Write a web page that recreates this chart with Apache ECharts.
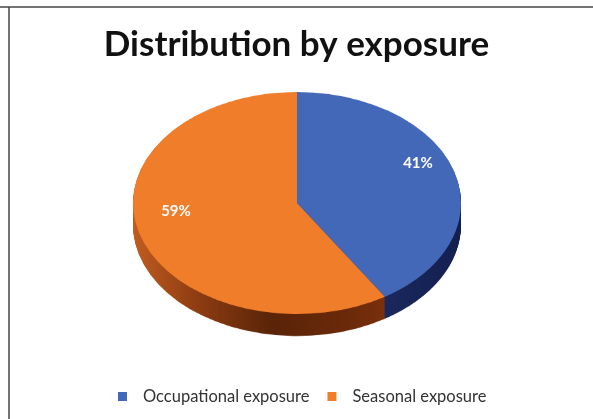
<!DOCTYPE html>
<html>
<head>
<meta charset="utf-8">
<script src="https://cdn.jsdelivr.net/npm/echarts@6/dist/echarts.min.js"></script>
<style>
  html, body { margin: 0; padding: 0; background: #ffffff; }
  #wrap { position: relative; width: 593px; height: 419px; overflow: hidden; background: #ffffff; }
  #pie3d { position: absolute; left: 0; top: 0; width: 593px; height: 540px; transform-origin: 0 0; }
  #front { position: absolute; left: 0; top: 0; width: 593px; height: 419px; }
</style>
</head>
<body>
<div id="wrap">
  <div id="pie3d"></div>
  <div id="front"></div>
</div>
<script>
// ---- data ----
const categories = ['Occupational exposure', 'Seasonal exposure'];
const values = [41, 59];
const titleText = 'Distribution by exposure';

// ---- styling / geometry ----
const topColors = ['#4468B8', '#F07D2A'];
const CX = 297;          // pie centre x (px)
const CY = 203;          // ellipse centre y on screen (px)
const RX = 164;          // horizontal radius (px)
const RY = 111;          // vertical radius (px)
const DEPTH = 22;        // visible thickness (px)
const S = RY / RX;       // vertical squash
const LABEL_CY = 187;    // perspective-apparent centre for labels

const pieData = categories.map((c, i) => ({ name: c, value: values[i] }));

// ---- squashed 3D body ----
const pieEl = document.getElementById('pie3d');
pieEl.style.transform = 'scaleY(' + S + ')';
const chartB = echarts.init(pieEl, null, { renderer: 'canvas' });

function sideColor(i) {
  if (i === 0) {
    return new echarts.graphic.LinearGradient(0, 0, 1, 0, [
      { offset: 0, color: '#22336e' },
      { offset: 1, color: '#131f4f' }
    ]);
  }
  return new echarts.graphic.LinearGradient(0, 0, 1, 0, [
    { offset: 0, color: '#c05c20' },
    { offset: 0.25, color: '#8f3d12' },
    { offset: 0.55, color: '#5a2408' },
    { offset: 0.85, color: '#6a2a0a' },
    { offset: 1, color: '#7a300c' }
  ]);
}

const bSeries = [];
const cyB = CY / S;
const depthB = DEPTH / S;
const steps = 30;
for (let k = steps; k >= 1; k--) {
  const off = depthB * k / steps;
  bSeries.push({
    type: 'pie',
    silent: true,
    animation: false,
    z: steps - k + 1,
    center: [CX, cyB + off],
    radius: [0, RX],
    startAngle: 90,
    clockwise: true,
    label: { show: false },
    labelLine: { show: false },
    itemStyle: { borderWidth: 0 },
    data: pieData.map((d, i) => ({ name: d.name, value: d.value, itemStyle: { color: sideColor(i) } }))
  });
}
bSeries.push({
  type: 'pie',
  silent: true,
  animation: false,
  z: steps + 2,
  center: [CX, cyB],
  radius: [0, RX],
  startAngle: 90,
  clockwise: true,
  label: { show: false },
  labelLine: { show: false },
  itemStyle: { borderWidth: 0 },
  data: pieData.map((d, i) => ({ name: d.name, value: d.value, itemStyle: { color: topColors[i] } }))
});
chartB.setOption({ backgroundColor: '#ffffff', series: bSeries });

// ---- front layer: title, legend, labels, frame ----
const chartA = echarts.init(document.getElementById('front'), null, { renderer: 'canvas' });
chartA.setOption({
  backgroundColor: 'transparent',
  color: topColors,
  title: {
    text: titleText,
    left: 'center',
    top: 22,
    textStyle: { fontFamily: 'Lato', fontWeight: 'bold', fontSize: 35, color: '#111111' }
  },
  legend: {
    left: 118,
    top: 388,
    padding: 0,
    icon: 'rect',
    itemWidth: 9,
    itemHeight: 9,
    itemGap: 18,
    textStyle: { fontFamily: 'Lato', fontSize: 16.5, color: '#333333', padding: [0, 0, 0, 11] },
    data: categories.map((c, i) => ({ name: c, itemStyle: { color: topColors[i] } }))
  },
  graphic: [
    { type: 'line', shape: { x1: 0, y1: 7, x2: 593, y2: 7 }, style: { stroke: '#444444', lineWidth: 1.5 } },
    { type: 'line', shape: { x1: 9, y1: 7, x2: 9, y2: 419 }, style: { stroke: '#444444', lineWidth: 1.5 } }
  ],
  series: [{
    type: 'pie',
    animation: false,
    silent: true,
    center: [CX, LABEL_CY],
    radius: [116, 130],
    startAngle: 90,
    clockwise: true,
    itemStyle: { color: 'rgba(0,0,0,0)', borderWidth: 0 },
    label: {
      show: true,
      position: 'inside',
      formatter: '{c}%',
      color: '#ffffff',
      fontFamily: 'Lato',
      fontWeight: 'bold',
      fontSize: 15
    },
    labelLine: { show: false },
    labelLayout: function (p) {
      const r = p.labelRect;
      const lx = r.x + r.width / 2;
      const ly = r.y + r.height / 2;
      return { x: lx, y: LABEL_CY + (ly - LABEL_CY) * S, align: 'center', verticalAlign: 'middle' };
    },
    data: pieData
  }]
});
</script>
</body>
</html>
